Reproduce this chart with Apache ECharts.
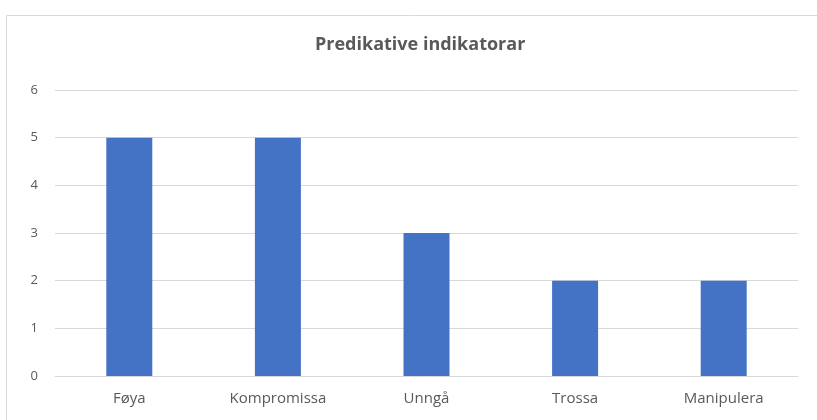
<!DOCTYPE html>
<html><head><meta charset="utf-8">
<script src="https://cdn.jsdelivr.net/npm/echarts@6/dist/echarts.min.js"></script>
<style>html,body{margin:0;padding:0;background:#fff}#c{width:817px;height:420px}</style>
</head><body><div id="c"></div>
<script>
const categories = ["Føya", "Kompromissa", "Unngå", "Trossa", "Manipulera"];
const values = [5, 5, 3, 2, 2];
const yTicks = [0, 1, 2, 3, 4, 5, 6];
const titleText = "Predikative indikatorar";

const chart = echarts.init(document.getElementById('c'));
chart.setOption({
  animation: false,
  backgroundColor: '#fff',
  graphic: [{
    type: 'rect', shape: {x: 6.5, y: 15.5, width: 830, height: 420},
    style: {fill: 'none', stroke: '#d9d9d9', lineWidth: 1}, silent: true
  }],
  title: {
    text: titleText, left: 310, top: 31,
    textStyle: {fontFamily: '"Open Sans", sans-serif', fontWeight: 'bold', fontSize: 18, color: '#595959'}
  },
  grid: {left: 55, right: 19, top: 90, bottom: 44, containLabel: false},
  xAxis: {
    type: 'category', data: categories,
    axisLine: {lineStyle: {color: '#d9d9d9'}}, axisTick: {show: false},
    axisLabel: {color: '#595959', fontSize: 15, fontFamily: '"Open Sans", sans-serif', margin: 15}
  },
  yAxis: {
    type: 'value', min: yTicks[0], max: yTicks[yTicks.length - 1], interval: 1,
    axisLine: {show: false}, axisTick: {show: false},
    splitLine: {lineStyle: {color: '#d9d9d9'}},
    axisLabel: {color: '#595959', fontSize: 13, fontFamily: '"Open Sans", sans-serif', margin: 17}
  },
  series: [{
    type: 'bar', data: values, barWidth: 46,
    itemStyle: {color: '#4472c4'}
  }]
});
</script></body></html>
